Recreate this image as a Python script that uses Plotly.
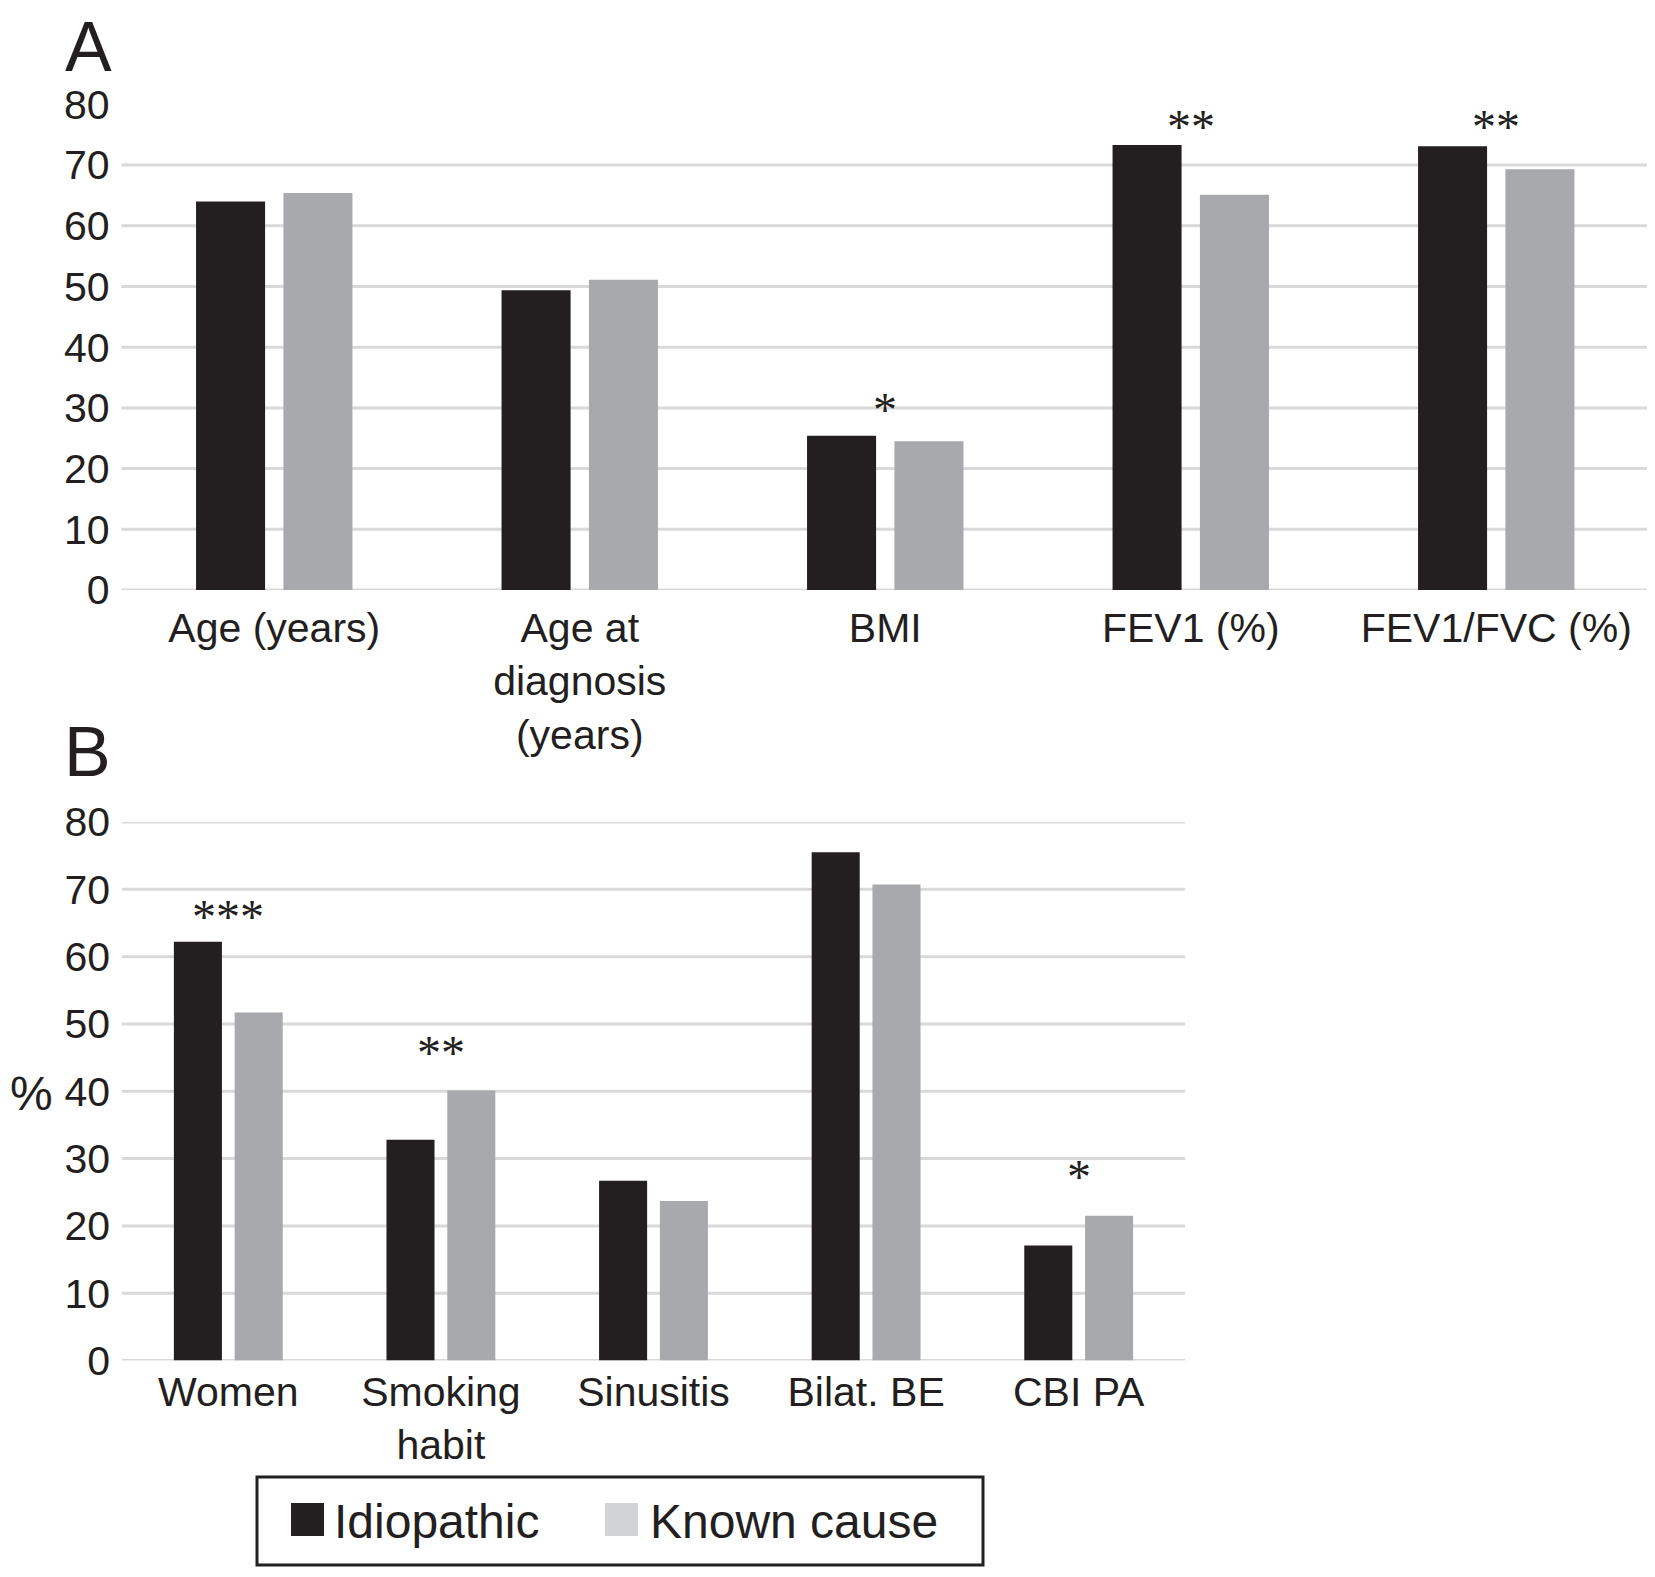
import plotly.graph_objects as go

# ---------------- data ----------------
SERIES = ["Idiopathic", "Known cause"]

CATS_A = ["Age (years)", "Age at<br>diagnosis<br>(years)", "BMI", "FEV1 (%)", "FEV1/FVC (%)"]
IDIO_A = [64.0, 49.4, 25.4, 73.3, 73.1]
KNOWN_A = [65.4, 51.1, 24.5, 65.1, 69.3]
SIG_A = ["", "", "*", "**", "**"]
SIG_A_Y = [None, None, 30.4, 77.0, 77.0]

CATS_B = ["Women", "Smoking<br>habit", "Sinusitis", "Bilat. BE", "CBI PA"]
IDIO_B = [62.2, 32.8, 26.7, 75.5, 17.1]
KNOWN_B = [51.7, 40.1, 23.7, 70.7, 21.5]
SIG_B = ["***", "**", "", "", "*"]
SIG_B_Y = [66.6, 46.3, None, None, 28.0]

Y_TICKS = [0, 10, 20, 30, 40, 50, 60, 70, 80]
GRID_A = [0, 10, 20, 30, 40, 50, 60, 70]
GRID_B = [0, 10, 20, 30, 40, 50, 60, 70, 80]

# ---------------- style ----------------
W, H = 1655, 1577
OFF_X, OFF_Y = 8, 8   # page (body) margin compensation
BLACK = "#231f20"
GRAY = "#a7a9ac"
GRAY_SWATCH = "#d1d3d4"
GRID = "#d9d9d9"
SANS = "Liberation Sans, Arial, sans-serif"
SERIF = "Liberation Serif, Times New Roman, serif"


def px(x):
    return (x - OFF_X) / W


def py(y):
    return 1 - (y - OFF_Y) / H


fig = go.Figure()

for cats, idio, known, xa, ya in [
    (CATS_A, IDIO_A, KNOWN_A, "x", "y"),
    (CATS_B, IDIO_B, KNOWN_B, "x2", "y2"),
]:
    fig.add_trace(go.Bar(x=cats, y=idio, name=SERIES[0], marker_color=BLACK,
                         marker_line_width=0, xaxis=xa, yaxis=ya, showlegend=False))
    fig.add_trace(go.Bar(x=cats, y=known, name=SERIES[1], marker_color=GRAY,
                         marker_line_width=0, xaxis=xa, yaxis=ya, showlegend=False))

shapes = []
for g in GRID_A:
    shapes.append(dict(type="line", xref="x domain", yref="y", x0=0, x1=1, y0=g, y1=g,
                       line=dict(color=GRID, width=3), layer="below"))
for g in GRID_B:
    shapes.append(dict(type="line", xref="x2 domain", yref="y2", x0=0, x1=1, y0=g, y1=g,
                       line=dict(color=GRID, width=3), layer="below"))

# legend (manual, to get large swatches)
shapes.append(dict(type="rect", xref="paper", yref="paper",
                   x0=px(257), x1=px(983), y0=py(1565), y1=py(1477),
                   line=dict(color=BLACK, width=3), fillcolor="rgba(0,0,0,0)"))
shapes.append(dict(type="rect", xref="paper", yref="paper",
                   x0=px(291), x1=px(324), y0=py(1536), y1=py(1503),
                   line=dict(width=0), fillcolor=BLACK))
shapes.append(dict(type="rect", xref="paper", yref="paper",
                   x0=px(605), x1=px(638), y0=py(1536), y1=py(1503),
                   line=dict(width=0), fillcolor=GRAY_SWATCH))

annotations = []
for cats, sig, sy, xa, ya in [(CATS_A, SIG_A, SIG_A_Y, "x", "y"), (CATS_B, SIG_B, SIG_B_Y, "x2", "y2")]:
    for c, s, yv in zip(cats, sig, sy):
        if s:
            annotations.append(dict(x=c, y=yv, xref=xa, yref=ya, text=s, showarrow=False,
                                    yanchor="middle", yshift=-4,
                                    font=dict(family=SERIF, size=48, color=BLACK)))

annotations += [
    dict(x=px(65), y=1, xref="paper", yref="paper", text="A", showarrow=False,
         xanchor="left", yanchor="top", borderpad=0, borderwidth=0,
         font=dict(family=SANS, size=70, color=BLACK)),
    dict(x=px(62), y=py(752), xref="paper", yref="paper", text="B", showarrow=False,
         xanchor="left", yanchor="middle", font=dict(family=SANS, size=70, color=BLACK)),
    dict(x=0, y=py(1093), xref="paper", yref="paper", text="%", showarrow=False,
         xanchor="left", yanchor="middle", font=dict(family=SANS, size=48, color=BLACK)),
    dict(x=px(332), y=py(1521.4), xref="paper", yref="paper", text=SERIES[0], showarrow=False,
         xanchor="left", yanchor="middle", font=dict(family=SANS, size=48, color=BLACK)),
    dict(x=px(648), y=py(1521.4), xref="paper", yref="paper", text=SERIES[1], showarrow=False,
         xanchor="left", yanchor="middle", font=dict(family=SANS, size=48, color=BLACK)),
]

tickfont = dict(family=SANS, size=41, color=BLACK)
xcommon = dict(type="category", showgrid=False, zeroline=False, showline=False, ticks="",
               tickfont=tickfont, fixedrange=True, automargin=False)
ycommon = dict(range=[0, 80], tickvals=Y_TICKS, showgrid=False, zeroline=False, showline=False,
               ticks="", tickfont=tickfont, ticklabelstandoff=11, automargin=False,
               fixedrange=True)

fig.update_layout(
    width=W, height=H,
    margin=dict(l=0, r=0, t=0, b=0, pad=0, autoexpand=False),
    paper_bgcolor="white", plot_bgcolor="white",
    barmode="group", bargap=0.428, bargroupgap=0.21,
    xaxis=dict(domain=[px(121.5), px(1649)], anchor="y", ticklabelstandoff=10, **xcommon),
    yaxis=dict(domain=[py(590), py(104.4)], anchor="x", **ycommon),
    xaxis2=dict(domain=[px(122), px(1185)], anchor="y2", ticklabelstandoff=3, **xcommon),
    yaxis2=dict(domain=[py(1360.5), py(822)], anchor="x2", **ycommon),
    shapes=shapes,
    annotations=annotations,
    font=dict(family=SANS, color=BLACK),
)

fig.write_html("out.html")
